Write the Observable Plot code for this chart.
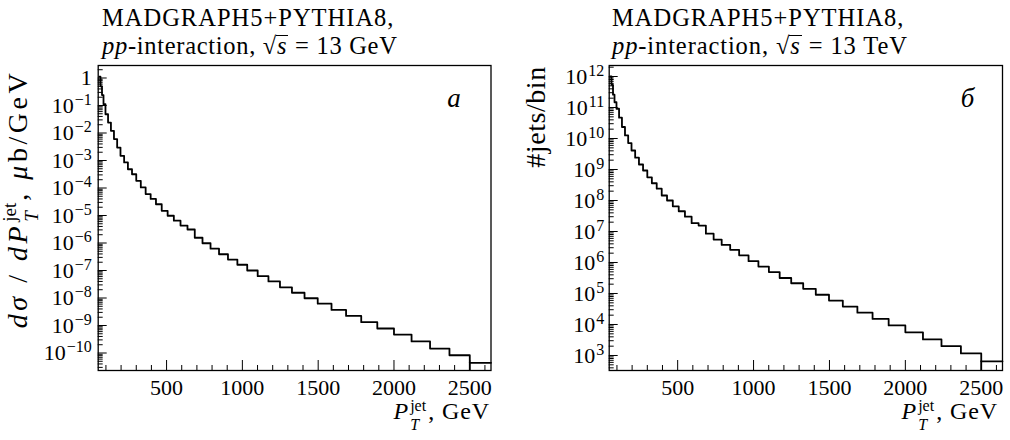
<!DOCTYPE html>
<html>
<head>
<meta charset="utf-8">
<script src="https://cdn.jsdelivr.net/npm/d3@7"></script>
<script src="https://cdn.jsdelivr.net/npm/@observablehq/plot@0.6"></script>
<style>
  html, body { margin: 0; padding: 0; background: #fff; }
  #wrap { position: relative; width: 1010px; height: 440px; font-family: "Liberation Serif", "Times New Roman", serif; color: #000; overflow: hidden; }
  .panel { position: absolute; top: 0; width: 505px; height: 440px; }
  .panel svg { position: absolute; left: 0; top: 0; }
  .tl { position: absolute; font-size: 24.5px; line-height: 27.5px; height: 27.5px; white-space: nowrap; }
  .rad { display: inline-block; border-top: 1.3px solid #000; line-height: 0.78em; padding: 0 1px; margin-left: -1px; }
  .xlab { position: absolute; font-size: 24px; line-height: 24px; white-space: nowrap; }
  .xlab .ss { font-size: 16px; line-height: 19px; vertical-align: 8px; }
  .ylab { position: absolute; font-size: 28px; line-height: 28px; white-space: nowrap; transform-origin: center center; }
  .ylab .ss { font-size: 19px; line-height: 22px; vertical-align: 11px; }
  .ss { display: inline-flex; flex-direction: column; margin: 0 2px 0 1px; letter-spacing: 0; }
</style>
</head>
<body>
<div id="wrap">
  <div id="pA" class="panel" style="left:0px"></div>
  <div id="pB" class="panel" style="left:505px"></div>
</div>
<script>
// ---- data ----
// variable pT bin edges, GeV
const binEdges = [56, 64, 74, 84, 97, 114, 133, 153, 174, 196, 220, 245, 272, 300, 330, 362, 395, 430, 468, 507,
  548, 592, 638, 686, 737, 790, 846, 905, 967, 1032, 1101, 1172, 1248, 1327, 1410, 1497, 1588, 1684, 1784, 1890,
  2000, 2116, 2238, 2366, 2500, 2640];

// panel a: dsigma/dPT, mub/GeV (one value per bin)
const xsecA = [1.12e0, 5.0e-1, 2.4e-1, 1.12e-1, 4.8e-2, 2.4e-2, 1.2e-2, 6.0e-3, 2.95e-3, 1.48e-3,
  8.5e-4, 4.8e-4, 3.16e-4, 1.82e-4, 1.05e-4, 6.0e-5, 4.0e-5, 2.57e-5, 1.48e-5, 9.8e-6,
  6.5e-6, 4.3e-6, 3.1e-6, 1.55e-6, 9.8e-7, 6.2e-7, 3.9e-7, 2.5e-7, 1.62e-7, 1.0e-7,
  6.2e-8, 4.0e-8, 2.45e-8, 1.55e-8, 9.8e-9, 6.2e-9, 3.7e-9, 2.24e-9, 1.32e-9, 7.8e-10,
  4.7e-10, 2.63e-10, 1.45e-10, 8.3e-11, 4.4e-11];

// panel b: number of jets per bin
const jetsB = [1.0e12, 5.4e11, 2.6e11, 1.48e11, 9.1e10, 4.7e10, 2.35e10, 1.26e10, 7.1e9, 4.1e9,
  2.4e9, 1.45e9, 9.3e8, 5.6e8, 3.6e8, 2.4e8, 1.45e8, 1.0e8, 6.5e7, 4.5e7,
  3.0e7, 1.86e7, 1.55e7, 8.5e6, 5.5e6, 3.7e6, 2.57e6, 1.7e6, 1.1e6, 7.4e5,
  4.9e5, 3.16e5, 2.14e5, 1.41e5, 9.1e4, 5.9e4, 3.8e4, 2.4e4, 1.51e4, 9.3e3,
  5.6e3, 3.3e3, 2.0e3, 1.17e3, 6.5e2];

// axes
const xDomain = [49, 2640];
const xMajor = [500, 1000, 1500, 2000, 2500];
const xMinorStep = 100;
const yMajorA = [1, 1e-1, 1e-2, 1e-3, 1e-4, 1e-5, 1e-6, 1e-7, 1e-8, 1e-9, 1e-10];
const yLabelsA = ["1", "10^−1", "10^−2", "10^−3", "10^−4", "10^−5", "10^−6", "10^−7", "10^−8", "10^−9", "10^−10"];
const yMajorB = [1e3, 1e4, 1e5, 1e6, 1e7, 1e8, 1e9, 1e10, 1e11, 1e12];
const yLabelsB = ["10^3", "10^4", "10^5", "10^6", "10^7", "10^8", "10^9", "10^10", "10^11", "10^12"];
const yDomainA = [Math.pow(10, -10.636), Math.pow(10, 0.4545)];
const yDomainB = [Math.pow(10, 2.516), Math.pow(10, 12.355)];

const titleLine1 = "MADGRAPH5+PYTHIA8,";
const energyA = "13 GeV";
const energyB = "13 TeV";

// ---- drawing ----
const NS = "http://www.w3.org/2000/svg";
const W = 505, H = 440, MT = 65, MB = 70;

function fitWidth(node, target) {
  const w = node.offsetWidth;
  const n = node.textContent.length;
  if (w < target) node.style.letterSpacing = ((target - w) / n).toFixed(2) + "px";
  return node.offsetWidth;
}

function drawPanel(el, cfg) {
  const pts = binEdges.map((e, i) => ({x: e, y: cfg.values[Math.min(i, cfg.values.length - 1)]}));
  const labelOf = new Map(cfg.yMajor.map((v, i) => [v, cfg.yLabels[i]]));
  const [lo, hi] = cfg.yDomain;
  const yMinor = [];
  for (let n = Math.floor(Math.log10(lo)); n <= Math.floor(Math.log10(hi)); n++)
    for (let k = 2; k <= 9; k++) { const v = k * Math.pow(10, n); if (v > lo && v < hi) yMinor.push(v); }
  const xMinor = d3.range(xMinorStep, xDomain[1], xMinorStep).filter(v => v > xDomain[0] && !xMajor.includes(v));
  const frameH = H - MT - MB;
  const frameW = W - cfg.marginLeft - cfg.marginRight;
  const last = cfg.values[cfg.values.length - 1];

  const svg = Plot.plot({
    width: W, height: H,
    marginLeft: cfg.marginLeft, marginRight: cfg.marginRight, marginTop: MT, marginBottom: MB,
    style: {fontFamily: "'Liberation Serif', 'Times New Roman', serif", fontSize: "22px", background: "transparent", overflow: "visible", color: "#000"},
    x: {domain: xDomain},
    y: {type: "log", domain: cfg.yDomain},
    marks: [
      Plot.tickX(xMinor, {x: d => d, insetTop: frameH - 5, stroke: "#000", strokeWidth: 1}),
      Plot.tickX(xMajor, {x: d => d, insetTop: frameH - 10, stroke: "#000", strokeWidth: 1}),
      Plot.tickY(yMinor, {y: d => d, insetRight: frameW - 5, stroke: "#000", strokeWidth: 1}),
      Plot.tickY(cfg.yMajor, {y: d => d, insetRight: frameW - 9, stroke: "#000", strokeWidth: 1}),
      Plot.axisX(xMajor, {tickSize: 0, tickPadding: 8.5, tickFormat: d => String(d), fontSize: 22, label: null}),
      Plot.axisY(cfg.yMajor, {tickSize: 0, tickPadding: cfg.tickPad, tickFormat: d => labelOf.get(d), fontSize: 22, label: null}),
      Plot.ruleX([{x: binEdges[binEdges.length - 2], y1: lo, y2: last}], {x: "x", y1: "y1", y2: "y2", stroke: "#000", strokeWidth: 1.8}),
      Plot.line(pts, {x: "x", y: "y", curve: "step-after", stroke: "#000", strokeWidth: 1.8}),
      Plot.frame({stroke: "#000", strokeWidth: 1.3}),
      Plot.text([cfg.letter], {text: d => d, frameAnchor: "top-right", dx: -cfg.letterDx, dy: 33, fontStyle: "italic", fontSize: 27, textAnchor: "middle", lineAnchor: "middle"})
    ]
  });

  // superscripts on the log tick labels
  svg.querySelectorAll('g[aria-label="y-axis tick label"] text').forEach(t => {
    const s = t.textContent;
    const k = s.indexOf("^");
    if (k < 0) return;
    t.textContent = "";
    const a = document.createElementNS(NS, "tspan");
    a.textContent = s.slice(0, k);
    const b = document.createElementNS(NS, "tspan");
    b.textContent = s.slice(k + 1);
    b.setAttribute("dy", "-0.5em");
    b.setAttribute("dx", "1");
    b.setAttribute("font-size", "16");
    t.append(a, b);
  });
  el.appendChild(svg);

  // title (two lines)
  const t1 = document.createElement("div");
  t1.className = "tl";
  t1.style.left = cfg.titleLeft + "px";
  t1.style.top = "4px";
  t1.textContent = titleLine1;
  el.appendChild(t1);
  fitWidth(t1, 293);
  const t2 = document.createElement("div");
  t2.className = "tl";
  t2.style.left = cfg.titleLeft + "px";
  t2.style.top = "31.5px";
  t2.innerHTML = `<i>pp</i>-interaction, √<span class="rad"><i>s</i></span> = ${cfg.energy}`;
  el.appendChild(t2);
  fitWidth(t2, 296);

  // x label
  const xl = document.createElement("div");
  xl.className = "xlab";
  xl.style.right = cfg.xlabRight + "px";
  xl.style.top = "396px";
  xl.innerHTML = `<i>P</i><span class="ss"><span>jet</span><span><i>T</i></span></span>, GeV`;
  el.appendChild(xl);
  fitWidth(xl, 100);

  // y label (rotated)
  const yl = document.createElement("div");
  yl.className = "ylab";
  yl.innerHTML = cfg.ylabel;
  el.appendChild(yl);
  const w = fitWidth(yl, cfg.ylabLen);
  const h = yl.offsetHeight;
  const cy = cfg.ylabTop + w / 2;
  yl.style.left = (cfg.ylabX - w / 2) + "px";
  yl.style.top = (cy - h / 2) + "px";
  yl.style.transform = "rotate(-90deg)";
}

drawPanel(document.getElementById("pA"), {
  values: xsecA, yMajor: yMajorA, yLabels: yLabelsA, yDomain: yDomainA,
  marginLeft: 97.7, marginRight: 14.5, tickPad: 6.5, letter: "a", letterDx: 37,
  titleLeft: 102, energy: energyA, ylabX: 21, ylabTop: 70, ylabLen: 272, xlabRight: 15,
  ylabel: `<i>dσ</i> / <i>dP</i><span class="ss"><span>jet</span><span><i>T</i></span></span>, <i>μ</i>b/GeV`
});
drawPanel(document.getElementById("pB"), {
  values: jetsB, yMajor: yMajorB, yLabels: yLabelsB, yDomain: yDomainB,
  marginLeft: 103.7, marginRight: 8, tickPad: 5, letter: "б", letterDx: 35,
  titleLeft: 107, energy: energyB, ylabX: 30, ylabTop: 66, ylabLen: 101, xlabRight: 12,
  ylabel: `#jets/bin`
});
</script>
</body>
</html>
